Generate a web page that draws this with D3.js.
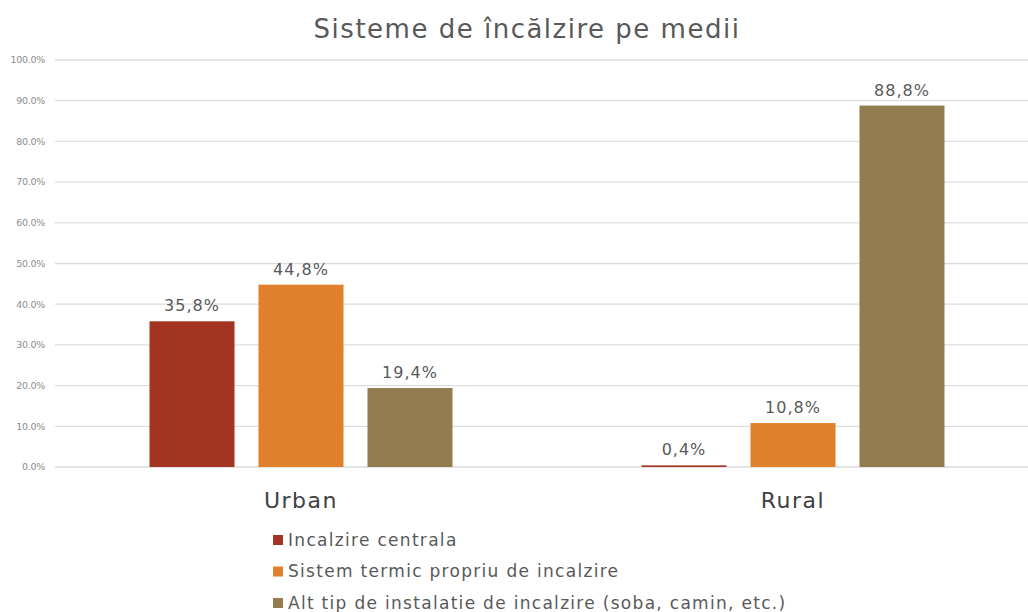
<!DOCTYPE html>
<html>
<head>
<meta charset="utf-8">
<script src="https://cdn.jsdelivr.net/npm/d3@7"></script>
<style>
  body { margin: 0; background: #fff; }
  text { font-family: "DejaVu Sans", "Liberation Sans", sans-serif; }
</style>
</head>
<body>
<svg id="chart"></svg>
<script>
// data
var categories = ["Urban", "Rural"];
var seriesNames = ["Incalzire centrala", "Sistem termic propriu de incalzire", "Alt tip de instalatie de incalzire (soba, camin, etc.)"];
var seriesColors = ["#A33421", "#E0802C", "#937C50"];
var urbanValues = [35.8, 44.8, 19.4];
var ruralValues = [0.4, 10.8, 88.8];
var yTicks = [0, 10, 20, 30, 40, 50, 60, 70, 80, 90, 100];

var width = 1028, height = 612;
var svg = d3.select("#chart").attr("width", width).attr("height", height);

//build rows
var rows = [];
categories.forEach(function(c, i){
	var vals = i == 0 ? urbanValues : ruralValues;
	vals.forEach(function(v, j){
		rows.push({cat: c, series: seriesNames[j], value: v, color: seriesColors[j]});
	});
});

//scales
var x0 = d3.scaleBand()
	.domain(categories)
	.range([55, 1039]);

var x1 = d3.scaleBand()
	.domain(seriesNames)
	.range([94.5, 397.5])
	.paddingInner(0.22);

var y = d3.scaleLinear()
	.domain([0, 100])
	.range([467, 60]);

//gridlines
svg.selectAll("line.grid")
	.data(yTicks)
	.enter()
	.append("line")
	.attr("class", "grid")
	.attr("x1", 55)
	.attr("x2", width)
	.attr("y1", function(d){ return y(d); })
	.attr("y2", function(d){ return y(d); })
	.style("stroke", "#DDDDDD")
	.style("stroke-width", "1.3px");

//y tick labels
svg.selectAll("text.ytick")
	.data(yTicks)
	.enter()
	.append("text")
	.attr("class", "ytick")
	.attr("x", 45)
	.attr("y", function(d){ return y(d); })
	.attr("dy", ".35em")
	.attr("text-anchor", "end")
	.style("font-size", "9.5px")
	.style("letter-spacing", "-0.3px")
	.style("fill", "#8C8C8C")
	.text(function(d){ return d.toFixed(1) + "%"; });

//bars
svg.selectAll("rect.bar")
	.data(rows)
	.enter()
	.append("rect")
	.attr("class", "bar")
	.attr("x", function(d){ return x0(d.cat) + x1(d.series); })
	.attr("y", function(d){ return y(d.value); })
	.attr("width", x1.bandwidth())
	.attr("height", function(d){ return y(0) - y(d.value); })
	.attr("fill", function(d){ return d.color; });

//value labels
svg.selectAll("text.val")
	.data(rows)
	.enter()
	.append("text")
	.attr("class", "val")
	.attr("x", function(d){ return x0(d.cat) + x1(d.series) + x1.bandwidth()/2; })
	.attr("y", function(d){ return y(d.value) - 10; })
	.attr("text-anchor", "middle")
	.style("font-size", "16px")
	.style("letter-spacing", "1px")
	.style("fill", "#595959")
	.text(function(d){ return d.value.toFixed(1).replace(".", ",") + "%"; });

//category labels
svg.selectAll("text.cat")
	.data(categories)
	.enter()
	.append("text")
	.attr("class", "cat")
	.attr("x", function(d){ return x0(d) + x0.bandwidth()/2; })
	.attr("y", 508)
	.attr("text-anchor", "middle")
	.style("font-size", "22px")
	.style("letter-spacing", "1.5px")
	.style("fill", "#404040")
	.text(function(d){ return d; });

//title
svg.append("text")
	.attr("x", 527)
	.attr("y", 38)
	.attr("text-anchor", "middle")
	.style("font-size", "26px")
	.style("letter-spacing", "1.5px")
	.style("fill", "#595959")
	.text("Sisteme de încălzire pe medii");

//legend
var legend = svg.selectAll("g.legend")
	.data(seriesNames)
	.enter()
	.append("g")
	.attr("class", "legend")
	.attr("transform", function(d, i){ return "translate(273," + (540 + i*31.5) + ")"; });

legend.append("rect")
	.attr("x", 0)
	.attr("y", -5)
	.attr("width", 10)
	.attr("height", 10)
	.attr("fill", function(d, i){ return seriesColors[i]; });

legend.append("text")
	.attr("x", 15)
	.attr("y", 0)
	.attr("dy", ".35em")
	.style("font-size", "17px")
	.style("letter-spacing", "1.3px")
	.style("fill", "#595959")
	.text(function(d){ return d; });
</script>
</body>
</html>
